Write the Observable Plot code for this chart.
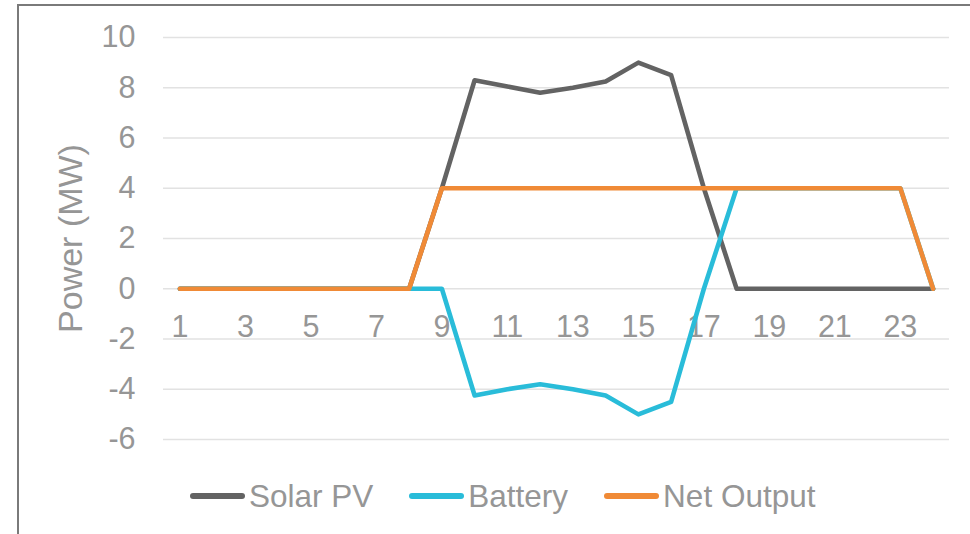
<!DOCTYPE html>
<html>
<head>
<meta charset="utf-8">
<script src="https://cdn.jsdelivr.net/npm/d3@7"></script>
<script src="https://cdn.jsdelivr.net/npm/@observablehq/plot@0.6"></script>
<style>
  html, body { margin: 0; padding: 0; background: #fff; }
  body { width: 970px; height: 534px; overflow: hidden; position: relative; font-family: "Liberation Sans", Arial, sans-serif; }
  #frame { position: absolute; left: 17px; top: 4px; width: 1100px; height: 700px; border: 2px solid #7a7a7a; box-sizing: border-box; pointer-events: none; }
  #chart { position: absolute; left: 0; top: 0; }
  #legend { position: absolute; top: 478px; left: 190px; display: flex; align-items: center; height: 36px; font-size: 31.5px; color: #969696; white-space: nowrap; }
  .item { display: flex; align-items: center; margin-right: 36px; }
  .swatch { width: 55px; height: 5.5px; border-radius: 3px; margin-right: 4px; }
</style>
</head>
<body>
<div id="chart"></div>
<div id="legend"></div>
<div id="frame"></div>
<script>
const hours   = [1,2,3,4,5,6,7,8,9,10,11,12,13,14,15,16,17,18,19,20,21,22,23,24];
const solarPV = [0,0,0,0,0,0,0,0,4,8.3,8.05,7.8,8.0,8.25,9.0,8.5,4.0,0,0,0,0,0,0,0];
const battery = [0,0,0,0,0,0,0,0,0,-4.25,-4.0,-3.8,-4.0,-4.25,-5.0,-4.5,0,4,4,4,4,4,4,0];
const netOut  = [0,0,0,0,0,0,0,0,4,4,4,4,4,4,4,4,4,4,4,4,4,4,4,0];
const seriesNames = ["Solar PV", "Battery", "Net Output"];
const seriesColors = ["#636363", "#29bcd9", "#f08a36"];
const yTicks = [-6,-4,-2,0,2,4,6,8,10];
const xTickLabels = [1,3,5,7,9,11,13,15,17,19,21,23];

const seriesValues = [solarPV, battery, netOut];
const rows = [];
seriesNames.forEach((name, i) => {
  hours.forEach((h, j) => rows.push({series: name, hour: h, value: seriesValues[i][j]}));
});

const textColor = "#969696";
const chart = Plot.plot({
  width: 970,
  height: 470,
  marginTop: 37,
  marginBottom: 31,
  marginLeft: 163,
  marginRight: 21,
  style: {fontFamily: "'Liberation Sans', Arial, sans-serif", background: "transparent", overflow: "visible"},
  x: {domain: [0.5, 24.5], axis: null},
  y: {domain: [-6, 10], axis: null},
  color: {domain: seriesNames, range: seriesColors},
  marks: [
    Plot.gridY(yTicks, {stroke: "#e2e2e2", strokeOpacity: 1, strokeWidth: 1.6}),
    Plot.axisY(yTicks, {label: null, tickSize: 0, tickPadding: 28, fontSize: 30.5, fill: textColor, tickFormat: d => String(d)}),
    Plot.text(xTickLabels, {x: d => d, y: () => 0, dy: 38, text: d => String(d), fontSize: 30.5, fill: textColor, textAnchor: "middle", lineAnchor: "middle"}),
    Plot.text(["Power (MW)"], {frameAnchor: "left", dx: -92, rotate: -90, fontSize: 34, fill: textColor, textAnchor: "middle", lineAnchor: "middle"}),
    Plot.line(rows, {x: "hour", y: "value", z: "series", stroke: "series", strokeWidth: 4.6, strokeLinejoin: "round", strokeLinecap: "round"})
  ]
});
document.getElementById("chart").appendChild(chart);

const legend = document.getElementById("legend");
seriesNames.forEach((name, i) => {
  const item = document.createElement("div");
  item.className = "item";
  const sw = document.createElement("span");
  sw.className = "swatch";
  sw.style.background = seriesColors[i];
  const label = document.createElement("span");
  label.textContent = name;
  item.appendChild(sw);
  item.appendChild(label);
  legend.appendChild(item);
});
</script>
</body>
</html>
